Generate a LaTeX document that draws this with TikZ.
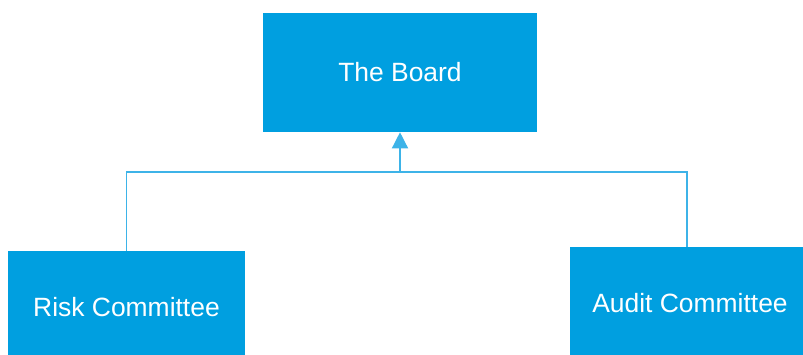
\documentclass[tikz,border=0pt]{standalone}
\usepackage{fontspec}
\setmainfont{Liberation Sans}
\usepackage{xcolor}
\usetikzlibrary{arrows.meta, positioning, calc}
\definecolor{boardblue}{HTML}{009FE0}
\definecolor{lineblue}{HTML}{3DB3E8}

\begin{document}
\begin{tikzpicture}[
    x=0.025cm, y=-0.025cm,
    box/.style   = {fill=boardblue, draw=none, text=white, align=center,
                    font=\fontsize{18.8}{22}\selectfont, inner sep=0pt},
    link/.style  = {draw=lineblue, line width=1pt},
    arr/.style   = {-{Triangle[length=11.5pt, width=11.5pt]}, draw=lineblue,
                    fill=lineblue, line width=1pt},
]
\useasboundingbox (0,0) rectangle (803,355);

%% ── Boxes ───────────────────────────────────────────────────────────────────
\node[box, minimum width=6.85cm, minimum height=2.975cm]
                        (board) at (400,72.5) {The Board};
\node[box, minimum width=5.925cm, minimum height=2.8cm]
                        (risk)  at (126.5,307) {Risk Committee};
\node[box, minimum width=6cm, minimum height=2.8cm]
                        (audit) at (690,303) {Audit Committee};

%% ── Connectors ──────────────────────────────────────────────────────────────
\coordinate (bus) at (400,172);
\draw[link] (risk.north) |- (bus) -| ($(audit.north)+(-3,0)$);
\draw[arr]  (bus) -- (board.south);

\end{tikzpicture}
\end{document}
